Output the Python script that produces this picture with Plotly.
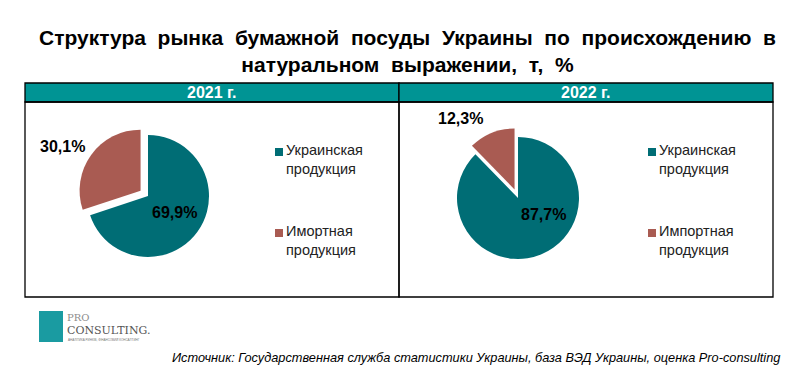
import plotly.graph_objects as go

# ---- data ----
years = ["2021 г.", "2022 г."]
categories = ["Украинская<br>продукция", "Имортная<br>продукция"]
legend_labels_2022 = ["Украинская<br>продукция", "Импортная<br>продукция"]
values_2021 = [69.9, 30.1]
values_2022 = [87.7, 12.3]
colors = ["#006D75", "#A95B52"]

title_text = "Структура  рынка  бумажной  посуды  Украины  по  происхождению  в<br>натуральном  выражении,  т,  %"
source_text = "Источник: Государственная служба статистики Украины, база ВЭД Украины, оценка Pro-consulting"

# page has an 8px body margin; compensate so page coordinates match
OFF = 8
W, H = 799 - OFF, 375 - OFF

def px(x):
    return (x - OFF) / W

def py(y):
    return 1 - (y - OFF) / H

fig = go.Figure()

pie_centers = [(148, 196), (518, 198)]
radius = 61
pull_amt = 0.15
half = radius * (1 + pull_amt)
all_values = [values_2021, values_2022]
for i, vals in enumerate(all_values):
    cx, cy = pie_centers[i]
    fig.add_trace(go.Pie(
        labels=["Украинская продукция", "Импортная продукция"],
        values=vals,
        sort=False,
        direction="clockwise",
        rotation=0,
        pull=[0, pull_amt],
        marker=dict(colors=colors, line=dict(width=0)),
        textinfo="none",
        hoverinfo="label+percent",
        showlegend=False,
        domain=dict(x=[px(cx - half), px(cx + half)], y=[py(cy + half), py(cy - half)]),
    ))

shapes = []
annotations = []

# panel boxes and headers
panels = [(25, 399), (399, 773)]
top, head_bot, bot = 83, 102, 297
for i, (x0, x1) in enumerate(panels):
    shapes.append(dict(type="rect", xref="paper", yref="paper",
                       x0=px(x0), x1=px(x1), y0=py(top), y1=py(head_bot),
                       fillcolor="#009494", line=dict(color="black", width=1.3), layer="below"))
    shapes.append(dict(type="rect", xref="paper", yref="paper",
                       x0=px(x0), x1=px(x1), y0=py(bot), y1=py(head_bot),
                       fillcolor="rgba(0,0,0,0)", line=dict(color="black", width=1.3), layer="below"))
    annotations.append(dict(text="<b>%s</b>" % years[i], xref="paper", yref="paper",
                            x=px((x0 + x1) / 2), y=py((top + head_bot) / 2 + 0.5), showarrow=False,
                            font=dict(family="Liberation Sans, Arial", size=16, color="white"),
                            xanchor="center", yanchor="middle"))

# percentage labels
label_pos = [[(174, 212), (62, 146)], [(543, 214), (460, 118)]]
for i, vals in enumerate(all_values):
    for j, v in enumerate(vals):
        lx, ly = label_pos[i][j]
        annotations.append(dict(text="<b>%s%%</b>" % ("%.1f" % v).replace(".", ","),
                                xref="paper", yref="paper", x=px(lx), y=py(ly),
                                showarrow=False, xanchor="center", yanchor="middle",
                                font=dict(family="Liberation Sans, Arial", size=16, color="black")))

# legends
legend_x = [279, 652]
legend_y = [159, 240]
legend_texts = [categories, legend_labels_2022]
for i in range(2):
    for j in range(2):
        lx = legend_x[i]
        ly = legend_y[j]
        shapes.append(dict(type="rect", xref="paper", yref="paper",
                           x0=px(lx - 4), x1=px(lx + 4), y0=py(ly - 3), y1=py(ly - 11),
                           fillcolor=colors[j], line=dict(width=0)))
        annotations.append(dict(text=legend_texts[i][j], xref="paper", yref="paper",
                                x=px(lx + 5), y=py(ly), showarrow=False, xanchor="left",
                                yanchor="middle", align="left",
                                font=dict(family="Liberation Sans, Arial", size=14.5, color="#222222")))

# title
annotations.append(dict(text="<b>" + title_text + "</b>", xref="paper", yref="paper",
                        x=px(408), y=py(51), showarrow=False, xanchor="center", yanchor="middle",
                        align="center",
                        font=dict(family="Liberation Sans, Arial", size=21, color="black")))

# logo
shapes.append(dict(type="rect", xref="paper", yref="paper",
                   x0=px(39), x1=px(63), y0=py(342), y1=py(311),
                   fillcolor="#1A9BA1", line=dict(width=0)))
annotations.append(dict(text="PRO", xref="paper", yref="paper", x=px(65), y=py(317),
                        showarrow=False, xanchor="left", yanchor="middle",
                        font=dict(family="DejaVu Serif", size=10, color="#8C8C8C")))
annotations.append(dict(text="CONSULTING.", xref="paper", yref="paper", x=px(65), y=py(330),
                        showarrow=False, xanchor="left", yanchor="middle",
                        font=dict(family="DejaVu Serif", size=11, color="#555555")))
annotations.append(dict(text="АНАЛІТИКА РИНКІВ, ФІНАНСОВИЙ КОНСАЛТИНГ", xref="paper", yref="paper",
                        x=px(66), y=py(340), showarrow=False, xanchor="left", yanchor="middle",
                        font=dict(family="Liberation Sans", size=3, color="#777777")))

# source
annotations.append(dict(text="<i>" + source_text + "</i>", xref="paper", yref="paper",
                        x=px(782), y=py(357), showarrow=False, xanchor="right", yanchor="middle",
                        font=dict(family="Liberation Sans, Arial", size=12.75, color="black")))

fig.update_layout(
    width=W, height=H,
    margin=dict(l=0, r=0, t=0, b=0),
    paper_bgcolor="white", plot_bgcolor="white",
    shapes=shapes, annotations=annotations,
)

fig.write_html("out.html")
